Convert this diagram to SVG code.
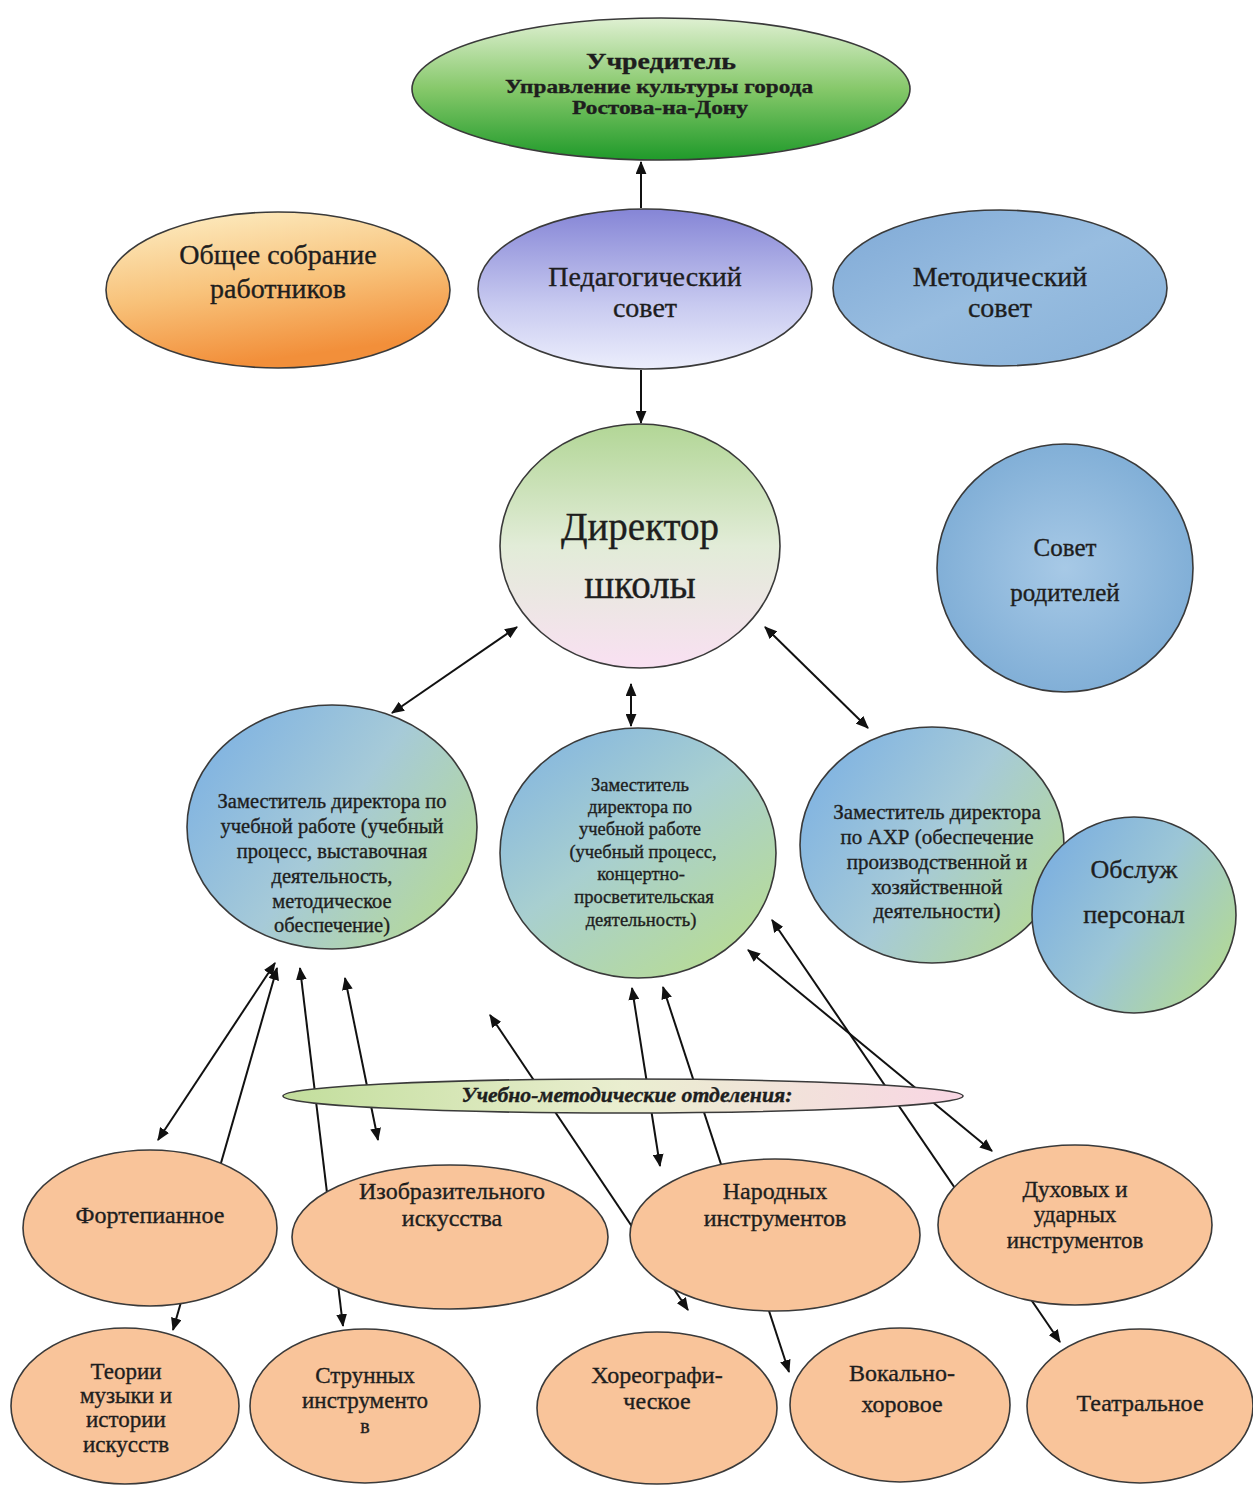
<svg xmlns="http://www.w3.org/2000/svg" width="1253" height="1486" viewBox="0 0 1253 1486">
<style>
  .n { stroke:#3a3a3a; stroke-width:1.6; }
  .t { font-family:"Liberation Serif","DejaVu Serif",serif; fill:#1e1e1e; stroke:#1e1e1e; stroke-width:0.35; text-anchor:middle; }
  .c { stroke:#111; stroke-width:2; fill:none; }
  .orange { fill:#f9c49a; }
</style>
<defs>
  <marker id="ah" viewBox="0 0 12 10" refX="11" refY="5" markerWidth="13" markerHeight="11" orient="auto-start-reverse" markerUnits="userSpaceOnUse">
    <path d="M0,0 L12,5 L0,10 z" fill="#111"/>
  </marker>
  <linearGradient id="gUch" x1="0" y1="0" x2="0" y2="1">
    <stop offset="0" stop-color="#dff0d2"/><stop offset="0.5" stop-color="#86c86a"/><stop offset="1" stop-color="#1f9a2a"/>
  </linearGradient>
  <linearGradient id="gObs" x1="0" y1="0" x2="0.3" y2="1">
    <stop offset="0" stop-color="#fdf0c8"/><stop offset="0.55" stop-color="#f8c27a"/><stop offset="1" stop-color="#f28f3a"/>
  </linearGradient>
  <linearGradient id="gPed" x1="0" y1="0" x2="0" y2="1">
    <stop offset="0" stop-color="#8585d6"/><stop offset="0.6" stop-color="#c8caf0"/><stop offset="1" stop-color="#eceefc"/>
  </linearGradient>
  <linearGradient id="gMet" x1="0" y1="0" x2="1" y2="1">
    <stop offset="0" stop-color="#7fa9d6"/><stop offset="0.5" stop-color="#98bde0"/><stop offset="1" stop-color="#86b0d8"/>
  </linearGradient>
  <linearGradient id="gDir" x1="0" y1="0" x2="0" y2="1">
    <stop offset="0" stop-color="#b2d696"/><stop offset="0.5" stop-color="#e2ecd8"/><stop offset="1" stop-color="#f9e0f2"/>
  </linearGradient>
  <radialGradient id="gSov" cx="0.5" cy="0.5" r="0.6">
    <stop offset="0" stop-color="#a7c9e6"/><stop offset="1" stop-color="#7aaad4"/>
  </radialGradient>
  <linearGradient id="gZam" x1="0" y1="0.2" x2="1" y2="0.8">
    <stop offset="0" stop-color="#7eb2e2"/><stop offset="0.5" stop-color="#a6cad8"/><stop offset="1" stop-color="#b6da94"/>
  </linearGradient>
  <linearGradient id="gZam2" x1="0" y1="0" x2="0.8" y2="1">
    <stop offset="0" stop-color="#7eb2e2"/><stop offset="0.5" stop-color="#a8cfd0"/><stop offset="1" stop-color="#b8dc94"/>
  </linearGradient>
  <linearGradient id="gOsl" x1="0" y1="0.2" x2="1" y2="0.8">
    <stop offset="0" stop-color="#7aaee0"/><stop offset="0.5" stop-color="#9cc6d6"/><stop offset="1" stop-color="#b4da92"/>
  </linearGradient>
  <linearGradient id="gOtd" x1="0" y1="0" x2="1" y2="0">
    <stop offset="0" stop-color="#c2de9c"/><stop offset="0.5" stop-color="#eaeed0"/><stop offset="1" stop-color="#f9d6e4"/>
  </linearGradient>
</defs>

<rect width="1253" height="1486" fill="#ffffff"/>

<g id="connectors">
  <line class="c" x1="641" y1="208" x2="641" y2="162" marker-end="url(#ah)"/>
  <line class="c" x1="641" y1="370" x2="641" y2="423" marker-end="url(#ah)"/>
  <line class="c" x1="517" y1="627" x2="392" y2="713" marker-start="url(#ah)" marker-end="url(#ah)"/>
  <line class="c" x1="631" y1="684" x2="631" y2="726" marker-start="url(#ah)" marker-end="url(#ah)"/>
  <line class="c" x1="765" y1="627" x2="868" y2="728" marker-start="url(#ah)" marker-end="url(#ah)"/>
  <line class="c" x1="275" y1="963" x2="158" y2="1140" marker-start="url(#ah)" marker-end="url(#ah)"/>
  <line class="c" x1="277" y1="968" x2="173" y2="1330" marker-start="url(#ah)" marker-end="url(#ah)"/>
  <line class="c" x1="300" y1="968" x2="343" y2="1326" marker-start="url(#ah)" marker-end="url(#ah)"/>
  <line class="c" x1="345" y1="978" x2="378" y2="1140" marker-start="url(#ah)" marker-end="url(#ah)"/>
  <line class="c" x1="490" y1="1015" x2="688" y2="1310" marker-start="url(#ah)" marker-end="url(#ah)"/>
  <line class="c" x1="632" y1="988" x2="660" y2="1166" marker-start="url(#ah)" marker-end="url(#ah)"/>
  <line class="c" x1="663" y1="987" x2="789" y2="1372" marker-start="url(#ah)" marker-end="url(#ah)"/>
  <line class="c" x1="772" y1="920" x2="1060" y2="1342" marker-start="url(#ah)" marker-end="url(#ah)"/>
  <line class="c" x1="748" y1="950" x2="992" y2="1151" marker-start="url(#ah)" marker-end="url(#ah)"/>
</g>

<g id="uchreditel">
  <ellipse class="n" cx="661" cy="89" rx="249" ry="71" fill="url(#gUch)"/>
  <text class="t" x="661" y="69" font-size="24" font-weight="bold" textLength="150" lengthAdjust="spacingAndGlyphs">Учредитель</text>
  <text class="t" x="659" y="93" font-size="19" font-weight="bold" textLength="308" lengthAdjust="spacingAndGlyphs">Управление культуры города</text>
  <text class="t" x="660" y="114" font-size="19" font-weight="bold" textLength="176" lengthAdjust="spacingAndGlyphs">Ростова-на-Дону</text>
</g>

<g id="obshchee-sobranie">
  <ellipse class="n" cx="278" cy="290" rx="172" ry="78" fill="url(#gObs)"/>
  <text class="t" x="278" y="264" font-size="28">Общее собрание</text>
  <text class="t" x="278" y="298" font-size="28">работников</text>
</g>

<g id="ped-sovet">
  <ellipse class="n" cx="645" cy="289" rx="167" ry="80" fill="url(#gPed)"/>
  <text class="t" x="645" y="286" font-size="28">Педагогический</text>
  <text class="t" x="645" y="317" font-size="28">совет</text>
</g>

<g id="met-sovet">
  <ellipse class="n" cx="1000" cy="288" rx="167" ry="78" fill="url(#gMet)"/>
  <text class="t" x="1000" y="286" font-size="28">Методический</text>
  <text class="t" x="1000" y="317" font-size="28">совет</text>
</g>

<g id="direktor">
  <ellipse class="n" cx="640" cy="546" rx="140" ry="122" fill="url(#gDir)"/>
  <text class="t" x="640" y="540" font-size="39">Директор</text>
  <text class="t" x="640" y="598" font-size="39">школы</text>
</g>

<g id="sovet-roditeley">
  <ellipse class="n" cx="1065" cy="568" rx="128" ry="124" fill="url(#gSov)"/>
  <text class="t" x="1065" y="556" font-size="25">Совет</text>
  <text class="t" x="1065" y="601" font-size="25">родителей</text>
</g>

<g id="zam-uch-1">
  <ellipse class="n" cx="332" cy="827" rx="145" ry="122" fill="url(#gZam)"/>
  <text class="t" font-size="20.5"><tspan x="332" y="808">Заместитель директора по</tspan><tspan x="332" y="833">учебной работе (учебный</tspan><tspan x="332" y="858">процесс, выставочная</tspan><tspan x="332" y="883">деятельность,</tspan><tspan x="332" y="908">методическое</tspan><tspan x="332" y="932">обеспечение)</tspan></text>
</g>

<g id="zam-uch-2">
  <ellipse class="n" cx="638" cy="853" rx="138" ry="125" fill="url(#gZam2)"/>
  <text class="t" font-size="18.5"><tspan x="640" y="791">Заместитель</tspan><tspan x="640" y="813">директора по</tspan><tspan x="640" y="835">учебной работе</tspan><tspan x="643" y="858">(учебный процесс,</tspan><tspan x="641" y="880">концертно-</tspan><tspan x="644" y="903">просветительская</tspan><tspan x="641" y="926">деятельность)</tspan></text>
</g>

<g id="zam-ahr">
  <ellipse class="n" cx="932" cy="845" rx="132" ry="118" fill="url(#gZam)"/>
  <text class="t" font-size="21"><tspan x="937" y="819">Заместитель директора</tspan><tspan x="937" y="844">по АХР (обеспечение</tspan><tspan x="937" y="869">производственной и</tspan><tspan x="937" y="894">хозяйственной</tspan><tspan x="937" y="918">деятельности)</tspan></text>
</g>

<g id="obsluzh">
  <ellipse class="n" cx="1134" cy="915" rx="102" ry="98" fill="url(#gOsl)"/>
  <text class="t" x="1134" y="878" font-size="26">Обслуж</text>
  <text class="t" x="1134" y="923" font-size="26">персонал</text>
</g>

<g id="otdeleniya">
  <ellipse class="n" cx="623" cy="1096" rx="340" ry="17" fill="url(#gOtd)"/>
  <text class="t" x="627" y="1102" font-size="20" font-weight="bold" font-style="italic" textLength="331" lengthAdjust="spacingAndGlyphs">Учебно-методические отделения:</text>
</g>

<g id="fortepiannoe">
  <ellipse class="n orange" cx="150" cy="1228" rx="127" ry="78"/>
  <text class="t" x="150" y="1223" font-size="24">Фортепианное</text>
</g>

<g id="izo">
  <ellipse class="n orange" cx="450" cy="1237" rx="158" ry="72"/>
  <text class="t" x="452" y="1199" font-size="24">Изобразительного</text>
  <text class="t" x="452" y="1226" font-size="24">искусства</text>
</g>

<g id="narodnyh">
  <ellipse class="n orange" cx="775" cy="1235" rx="145" ry="76"/>
  <text class="t" x="775" y="1199" font-size="24">Народных</text>
  <text class="t" x="775" y="1226" font-size="24">инструментов</text>
</g>

<g id="duhovyh">
  <ellipse class="n orange" cx="1075" cy="1225" rx="137" ry="80"/>
  <text class="t" x="1075" y="1197" font-size="23">Духовых и</text>
  <text class="t" x="1075" y="1222" font-size="23">ударных</text>
  <text class="t" x="1075" y="1248" font-size="23">инструментов</text>
</g>

<g id="teorii">
  <ellipse class="n orange" cx="125" cy="1406" rx="114" ry="78"/>
  <text class="t" x="126" y="1379" font-size="23">Теории</text>
  <text class="t" x="126" y="1403" font-size="23">музыки и</text>
  <text class="t" x="126" y="1427" font-size="23">истории</text>
  <text class="t" x="126" y="1452" font-size="23">искусств</text>
</g>

<g id="strunnyh">
  <ellipse class="n orange" cx="365" cy="1406" rx="115" ry="77"/>
  <text class="t" x="365" y="1383" font-size="23">Струнных</text>
  <text class="t" x="365" y="1408" font-size="23">инструменто</text>
  <text class="t" x="365" y="1433" font-size="20">в</text>
</g>

<g id="horeograf">
  <ellipse class="n orange" cx="657" cy="1408" rx="120" ry="76"/>
  <text class="t" x="657" y="1383" font-size="24">Хореографи-</text>
  <text class="t" x="657" y="1409" font-size="24">ческое</text>
</g>

<g id="vokalno">
  <ellipse class="n orange" cx="900" cy="1405" rx="110" ry="77"/>
  <text class="t" x="902" y="1381" font-size="24">Вокально-</text>
  <text class="t" x="902" y="1412" font-size="24">хоровое</text>
</g>

<g id="teatralnoe">
  <ellipse class="n orange" cx="1140" cy="1406" rx="113" ry="77"/>
  <text class="t" x="1140" y="1411" font-size="24">Театральное</text>
</g>
</svg>
